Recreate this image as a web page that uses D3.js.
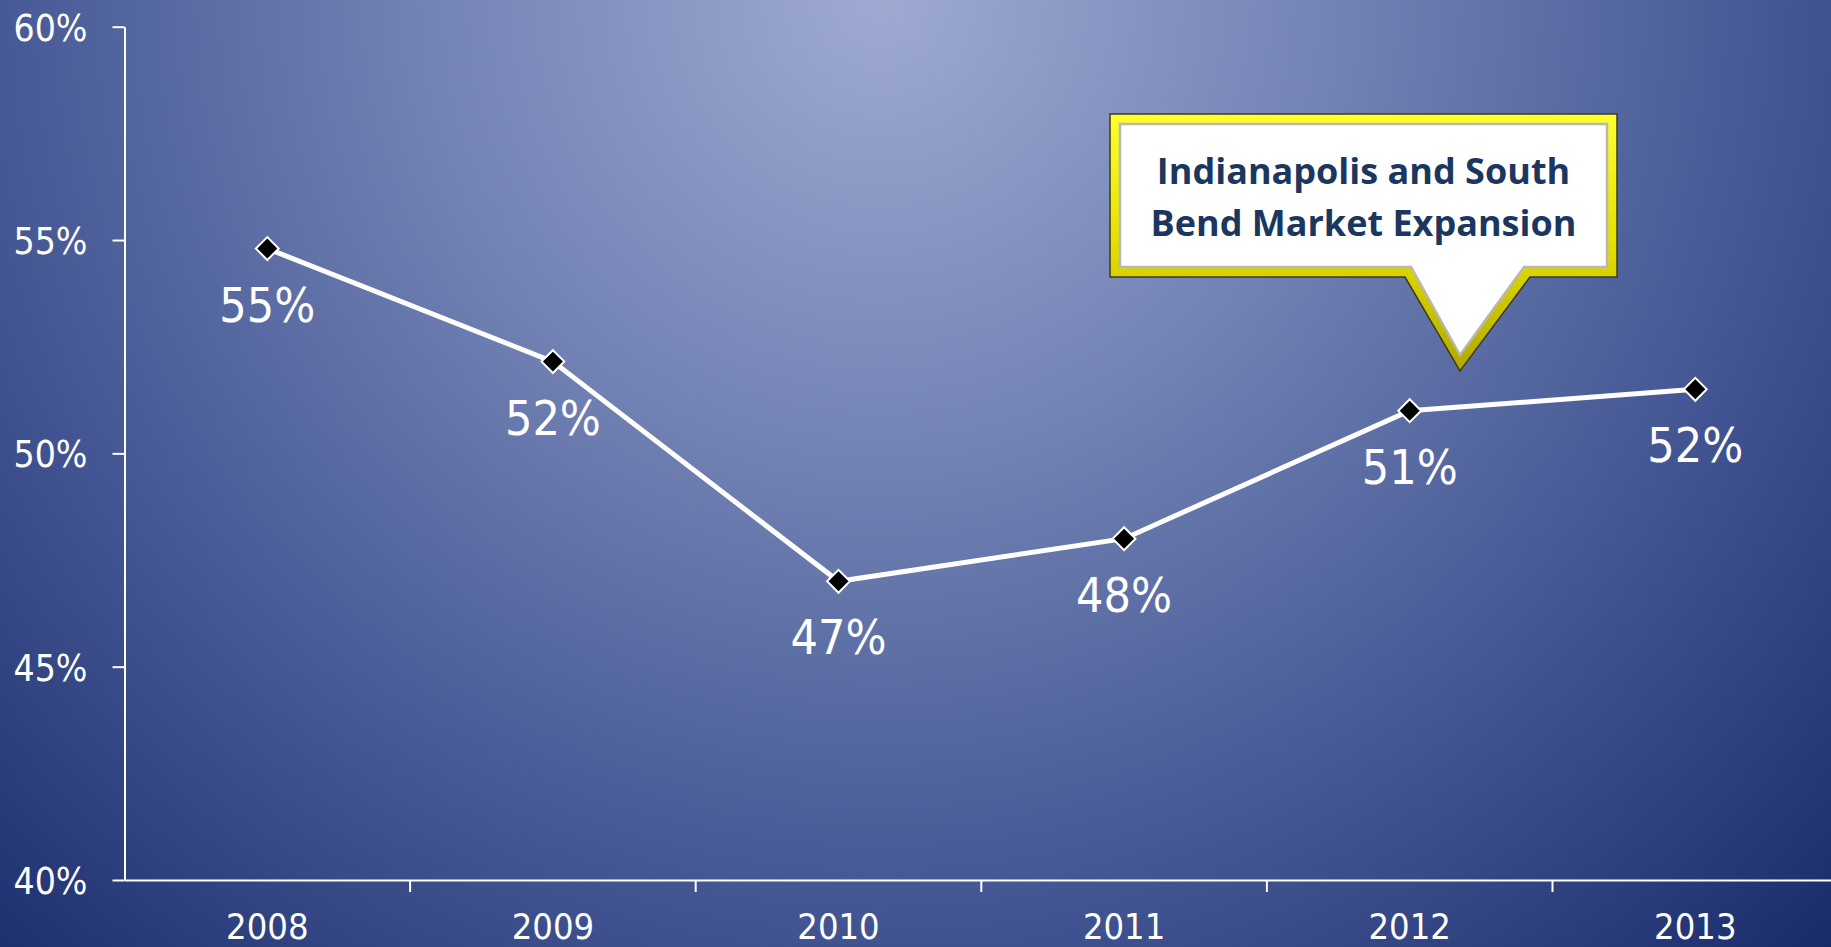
<!DOCTYPE html>
<html>
<head>
    <meta charset="utf-8">
    <title></title>
    <script src="https://d3js.org/d3.v7.min.js"></script>
<style>
html, body { margin: 0; padding: 0; overflow: hidden; }
#chart-container { width: 1831px; height: 947px; }
svg { display: block; }
.tick text { font-family: "DejaVu Sans Condensed", "DejaVu Sans", sans-serif; fill: #fff; }
</style>
</head>
<body>
<div id="chart-container"></div>
<script>
const years = ['2008', '2009', '2010', '2011', '2012', '2013'];
const values = [54.8, 52.15, 47.0, 48.0, 51.0, 51.5];
const labels = ['55%', '52%', '47%', '48%', '51%', '52%'];
const yTicks = [40, 45, 50, 55, 60];
const calloutLines = ['Indianapolis and South', 'Bend Market Expansion'];

const W = 1831, H = 947;
const margin = { top: 26.7, left: 124.5, bottom: 67 };
const bandW = 285.6;

const svg = d3.select('#chart-container').append('svg')
    .attr('width', W).attr('height', H);

const defs = svg.append('defs');
const bg = defs.append('radialGradient')
    .attr('id', 'bg').attr('gradientUnits', 'userSpaceOnUse')
    .attr('cx', 880).attr('cy', 0).attr('r', 1340);
[[0, '#9eaad2'], [0.35, '#7181b3'], [0.68, '#435693'], [1, '#1a2b6b']]
    .forEach(s => bg.append('stop').attr('offset', s[0]).attr('stop-color', s[1]));

const gold = defs.append('linearGradient')
    .attr('id', 'gold').attr('x1', 0).attr('y1', 0).attr('x2', 0).attr('y2', 1);
[[0, '#ffff30'], [0.5, '#e6e000'], [1, '#b0a800']]
    .forEach(s => gold.append('stop').attr('offset', s[0]).attr('stop-color', s[1]));

svg.append('rect').attr('width', W).attr('height', H).attr('fill', 'url(#bg)');

const xScale = d3.scaleBand().domain(years)
    .range([margin.left, margin.left + bandW * years.length]);
const yScale = d3.scaleLinear().domain([40, 60])
    .range([H - margin.bottom, margin.top]);

// y axis
const yAxis = svg.append('g')
    .attr('transform', `translate(${margin.left},0)`)
    .call(d3.axisLeft(yScale).tickValues(yTicks).tickFormat(d => d + '%')
        .tickSize(12).tickPadding(25).tickSizeOuter(0));
yAxis.selectAll('text').attr('font-size', 37).attr('dy', '0.36em');
yAxis.selectAll('line, path').attr('stroke', '#fff').attr('stroke-width', 2);

// x axis
const x0 = yScale(40);
const xAxis = svg.append('g')
    .attr('transform', `translate(0,${x0})`)
    .call(d3.axisBottom(xScale).tickSize(0).tickPadding(33).tickSizeOuter(0));
xAxis.select('.domain').attr('stroke', '#fff').attr('stroke-width', 2);
xAxis.selectAll('text').attr('font-size', 36);
xAxis.selectAll('.bound')
    .data(years.slice(1))
    .join('line')
    .attr('class', 'bound')
    .attr('x1', d => xScale(d)).attr('x2', d => xScale(d))
    .attr('y1', 0).attr('y2', 12)
    .attr('stroke', '#fff').attr('stroke-width', 2);

const cx = (d, i) => xScale(years[i]) + xScale.bandwidth() / 2;

// line
svg.append('path')
    .datum(values)
    .attr('fill', 'none')
    .attr('stroke', '#fff')
    .attr('stroke-width', 5)
    .attr('d', d3.line().x(cx).y(d => yScale(d)));

// markers
svg.selectAll('.marker')
    .data(values)
    .join('path')
    .attr('class', 'marker')
    .attr('d', d3.symbol(d3.symbolSquare, 260))
    .attr('transform', (d, i) => `translate(${cx(d, i)},${yScale(d)}) rotate(45)`)
    .attr('fill', '#000')
    .attr('stroke', '#fff')
    .attr('stroke-width', 2);

// data labels
svg.selectAll('.dlabel')
    .data(values)
    .join('text')
    .attr('class', 'dlabel')
    .attr('x', cx)
    .attr('y', d => yScale(d) + 73)
    .attr('text-anchor', 'middle')
    .attr('font-family', '"DejaVu Sans Condensed", "DejaVu Sans", sans-serif')
    .attr('font-size', 48)
    .attr('fill', '#fff')
    .text((d, i) => labels[i]);

// callout
const box = { x0: 1110, y0: 114, x1: 1617, y1: 277, t0: 1405, t1: 1530, tx: 1460, ty: 371 };
const outer = `M${box.x0},${box.y0}H${box.x1}V${box.y1}H${box.t1}L${box.tx},${box.ty}L${box.t0},${box.y1}H${box.x0}Z`;
const b = 10;
const inner = `M${box.x0 + b},${box.y0 + b}H${box.x1 - b}V${box.y1 - b}H${box.t1 - 6}L${box.tx},${box.ty - 16}L${box.t0 + 6},${box.y1 - b}H${box.x0 + b}Z`;
const callout = svg.append('g');
callout.append('path').attr('d', outer)
    .attr('fill', 'url(#gold)').attr('stroke', '#3c3c14').attr('stroke-width', 1.5);
callout.append('path').attr('d', inner)
    .attr('fill', '#fff').attr('stroke', '#b8b8b0').attr('stroke-width', 2.5);
callout.selectAll('text')
    .data(calloutLines)
    .join('text')
    .attr('x', (box.x0 + box.x1) / 2)
    .attr('y', (d, i) => 184 + i * 52)
    .attr('text-anchor', 'middle')
    .attr('font-family', '"Open Sans", "Noto Sans", sans-serif')
    .attr('font-weight', 700)
    .attr('font-size', 36)
    .attr('fill', '#1b365f')
    .text(d => d);
</script>
</body>
</html>
